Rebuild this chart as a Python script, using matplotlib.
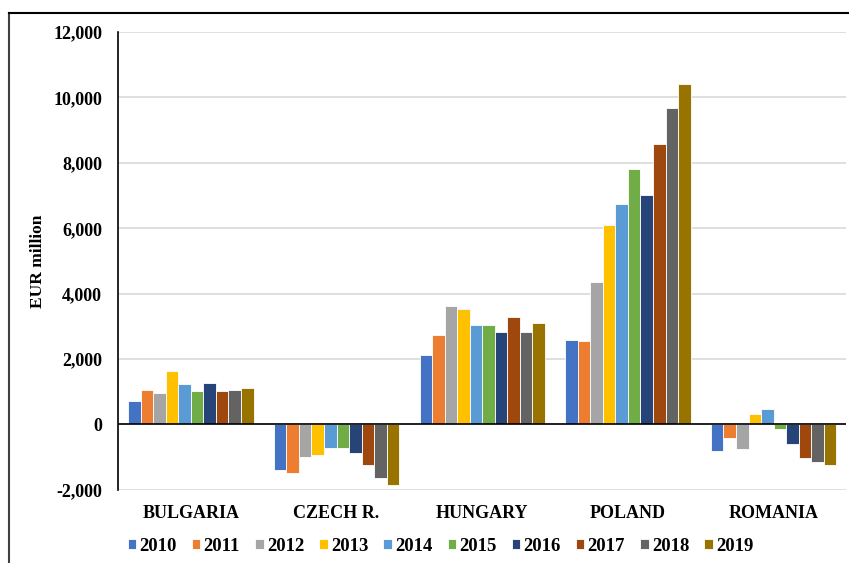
import matplotlib.pyplot as plt
import numpy as np
from matplotlib.lines import Line2D

countries = ["BULGARIA", "CZECH R.", "HUNGARY", "POLAND", "ROMANIA"]
years = ["2010", "2011", "2012", "2013", "2014", "2015", "2016", "2017", "2018", "2019"]

# EUR million, one list per country (2010..2019)
bulgaria = [710, 1060, 970, 1640, 1240, 1030, 1280, 1030, 1060, 1100]
czech    = [-1385, -1475, -990, -935, -720, -710, -865, -1240, -1630, -1850]
hungary  = [2130, 2740, 3610, 3520, 3035, 3050, 2840, 3300, 2840, 3095]
poland   = [2585, 2565, 4355, 6085, 6750, 7815, 7020, 8570, 9690, 10400]
romania  = [-815, -430, -755, 325, 460, -130, -610, -1020, -1140, -1230]

colors = ["#4472C4", "#ED7D31", "#A5A5A5", "#FFC000", "#5B9BD5",
          "#70AD47", "#264478", "#9E480E", "#636363", "#997300"]

plt.rcParams["font.family"] = ["Liberation Serif", "DejaVu Serif"]
plt.rcParams["font.weight"] = "bold"

data = np.array([bulgaria, czech, hungary, poland, romania])

fig = plt.figure(figsize=(8.49, 5.63), dpi=100)
ax = fig.add_axes([0.139, 0.130, 0.858, 0.813])

x = np.arange(len(countries))
w = 0.086
for i, (yr, col) in enumerate(zip(years, colors)):
    ax.bar(x + (i - 4.5) * w, data[:, i], width=w, color=col,
           edgecolor="white", linewidth=0.6, label=yr, zorder=3)

ax.axhline(0, color="black", linewidth=1.2, zorder=4)
ax.set_xlim(-0.5, len(countries) - 0.5)
ax.set_ylim(-2000, 12000)
ax.set_yticks(range(-2000, 12001, 2000))
ax.set_yticklabels([f"{v:,}" for v in range(-2000, 12001, 2000)], fontsize=13, fontweight="bold")
ax.set_xticks(x)
ax.set_xticklabels(countries, fontsize=13, fontweight="bold")
ax.tick_params(length=0)
ax.tick_params(axis="y", pad=11.5)
ax.tick_params(axis="x", pad=11)
ax.grid(axis="y", color="#D9D9D9", linewidth=1.2, zorder=0)
for s in ["top", "right", "bottom"]:
    ax.spines[s].set_visible(False)
ax.spines["left"].set_color("black")
ax.spines["left"].set_linewidth(1.2)
ax.set_ylabel("EUR million", fontsize=12.5, fontweight="bold", labelpad=5)

fig.legend(loc="center", bbox_to_anchor=(0.519, 0.030), ncol=10, frameon=False,
           fontsize=13.5, handlelength=0.45, handleheight=0.45, handletextpad=0.18,
           columnspacing=0.8, borderaxespad=0, borderpad=0)

# outer chart border (left and top visible)
fig.add_artist(Line2D([0.0106, 0.0106], [0, 0.977], color="#404040", linewidth=1.5))
fig.add_artist(Line2D([0.0106, 1.0], [0.977, 0.977], color="black", linewidth=1.5))

fig.savefig("out.png", dpi=100)
